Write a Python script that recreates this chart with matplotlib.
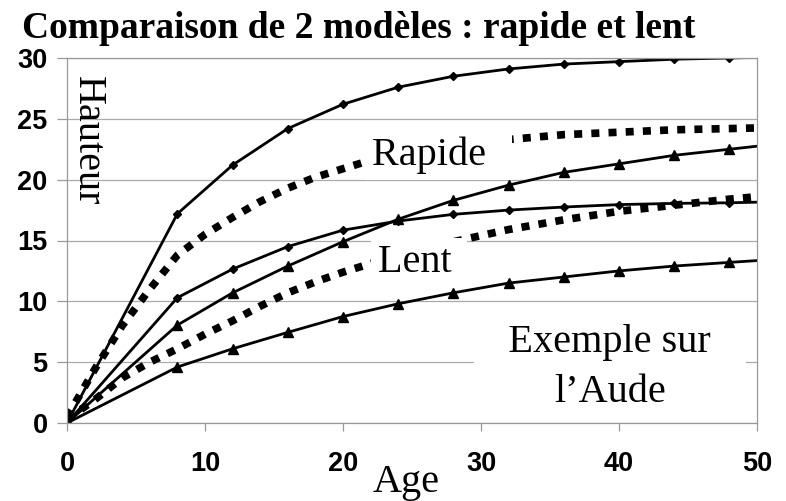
import numpy as np
import matplotlib
matplotlib.use('Agg')
import matplotlib.pyplot as plt

# Données observées (courbes en trait plein)
ages = [0, 8, 12, 16, 20, 24, 28, 32, 36, 40, 44, 48, 50]
rapide_haut = [0, 17.2, 21.2, 24.2, 26.2, 27.6, 28.5, 29.1, 29.5, 29.7, 29.9, 30.0, 30.05]
lent_haut = [0, 10.3, 12.65, 14.5, 15.85, 16.6, 17.15, 17.5, 17.75, 17.95, 18.05, 18.1, 18.15]
rapide_bas = [0, 8.05, 10.7, 12.9, 14.9, 16.75, 18.3, 19.55, 20.6, 21.3, 22.0, 22.5, 22.75]
lent_bas = [0, 4.6, 6.1, 7.45, 8.75, 9.8, 10.7, 11.5, 12.0, 12.5, 12.9, 13.2, 13.35]

# Modèles (pointillés épais)
ages_modele = [0, 2, 4, 6, 8, 10, 12, 14, 16, 18, 20, 22, 24, 28, 32, 36, 40, 44, 48, 50]
modele_rapide = [0.5, 4.4, 8.0, 11.0, 13.8, 15.5, 16.9, 18.2, 19.3, 20.2, 20.9, 21.6, 22.2,
                 22.9, 23.3, 23.7, 23.9, 24.1, 24.2, 24.25]
modele_lent = [0.3, 1.9, 3.7, 5.0, 6.1, 7.3, 8.4, 9.6, 10.7, 11.6, 12.4, 13.1, 13.8,
               14.9, 15.9, 16.7, 17.4, 17.9, 18.4, 18.6]

xticks = [0, 10, 20, 30, 40, 50]
yticks = [0, 5, 10, 15, 20, 25, 30]

serif = 'Liberation Serif'
sans = 'Liberation Sans'
gris = '#999999'

fig = plt.figure(figsize=(7.86, 5.01), dpi=100)
ax = fig.add_axes([67/786, 1 - 423/501, (757 - 67)/786, (423 - 58)/501])

ax.set_xlim(0, 50)
ax.set_ylim(0, 30)
ax.set_xticks(xticks)
ax.set_yticks(yticks)
ax.yaxis.grid(True, color='#aaaaaa', lw=0.9)
ax.set_axisbelow(True)
for s in ax.spines.values():
    s.set_color(gris)
    s.set_linewidth(0.9)
ax.tick_params(axis='y', length=7, width=0.9, color=gris, pad=7)
ax.tick_params(axis='x', length=6, width=0.9, color=gris, pad=14)
for lab in ax.get_xticklabels() + ax.get_yticklabels():
    lab.set_fontfamily(sans)
    lab.set_fontweight('bold')
    lab.set_fontsize(19.5)

mk = list(range(len(ages) - 1))
ax.plot(ages, rapide_haut, '-', color='black', lw=2, marker='D', ms=4.5, markevery=mk)
ax.plot(ages, lent_haut, '-', color='black', lw=2, marker='D', ms=4.5, markevery=mk)
ax.plot(ages, rapide_bas, '-', color='black', lw=2, marker='^', ms=7, markevery=mk)
ax.plot(ages, lent_bas, '-', color='black', lw=2, marker='^', ms=7, markevery=mk)

for m in (modele_rapide, modele_lent):
    ax.plot(ages_modele, m, color='black', lw=5.5, dashes=(1.05, 1.2),
            dash_capstyle='butt', solid_capstyle='butt')

boite = dict(facecolor='white', edgecolor='none', boxstyle='square,pad=0.15')
ax.text(22.1, 21.2, 'Rapide  ', family=serif, fontsize=29, va='baseline', ha='left',
        bbox=boite, zorder=5)
ax.text(22.5, 12.4, 'Lent ', family=serif, fontsize=29, va='baseline', ha='left',
        bbox=boite, zorder=5)
ax.text(39.35, 5.83, '   Exemple sur   ', family=serif, fontsize=29, va='baseline',
        ha='center', bbox=dict(facecolor='white', edgecolor='none',
                               boxstyle='square,pad=0.1'), zorder=5)
ax.text(39.35, 1.73, 'l\u2019Aude', family=serif, fontsize=29, va='baseline',
        ha='center', zorder=6)

fig.text(87/786, 1 - 141/501, 'Hauteur', family=serif, fontsize=29, rotation=-90,
         ha='center', va='center')
fig.text(406/786, 1 - 492/501, 'Age', family=serif, fontsize=29, ha='center',
         va='baseline')
fig.text(22/786, 1 - 38/501, 'Comparaison de 2 modèles : rapide et lent', family=serif,
         fontweight='bold', fontsize=27, ha='left', va='baseline')

fig.savefig('out.png', dpi=100)
